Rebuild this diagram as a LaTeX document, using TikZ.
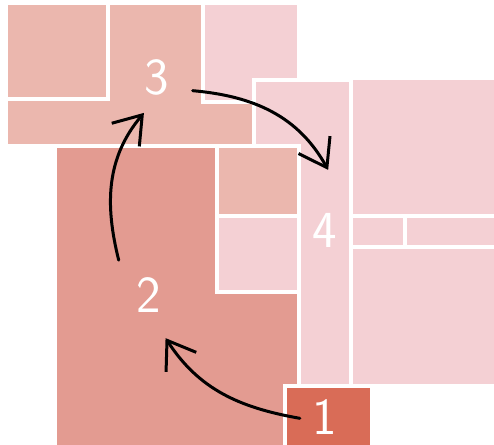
\documentclass[tikz,border=0pt]{standalone}
\usepackage{xcolor}
\usepackage{tikz}
\usetikzlibrary{arrows.meta}
\definecolor{tileA}{HTML}{D96C57}
\definecolor{tileB}{HTML}{E39B91}
\definecolor{tileC}{HTML}{EBB7AE}
\definecolor{tileD}{HTML}{F4D0D4}

\begin{document}
\begin{tikzpicture}[x=1pt, y=1pt,
  tile/.style={draw=white, line width=4pt},
  lbl/.style={circle, inner sep=0pt, text=white, font=\sffamily\fontsize{52}{52}\selectfont},
  >={Straight Barb[length=26pt,width=36pt]},
  arr/.style={->, line width=3pt, line cap=round}]
\useasboundingbox (0,0) rectangle (494,444);
\fill[white] (0,0) rectangle (494,444);
\filldraw[tile, fill=tileC] (6,297.5) rectangle (254,441);
\filldraw[tile, fill=tileC] (6,345) rectangle (107.5,441);
\filldraw[tile, fill=tileD] (203,341.5) rectangle (299,441);
\filldraw[tile, fill=tileD] (254,58.5) rectangle (350.5,364);
\foreach \xa/\ya/\xb/\yb in {350.5/227.5/500/366, 350.5/196.5/405/227.5, 405/196.5/500/227.5, 350.5/58.5/500/196.5}
  \filldraw[tile, fill=tileD] (\xa,\ya) rectangle (\xb,\yb);
\filldraw[tile, fill=tileB] (55,-5) rectangle (299,297.5);
\filldraw[tile, fill=tileC] (216.5,227.5) rectangle (299,297.5);
\filldraw[tile, fill=tileD] (216.5,152) rectangle (299,227.5);
\filldraw[tile, fill=tileA] (284.5,-5) rectangle (372,58.5);
\node[lbl, minimum size=50pt] (n1) at (325,27) {1};
\node[lbl, minimum size=92pt] (n2) at (149,149) {2};
\node[lbl, minimum size=76pt] (n3) at (157,367) {3};
\node[lbl, minimum size=120pt] (n4) at (325,214) {4};
\draw[arr] (n1.183) to[out=170, in=-57] (n2.-69);
\draw[arr] (n2.131) to[out=104, in=-130] (n3.-110);
\draw[arr] (n3.-21) to[out=-5, in=119] (n4.87);
\end{tikzpicture}
\end{document}
